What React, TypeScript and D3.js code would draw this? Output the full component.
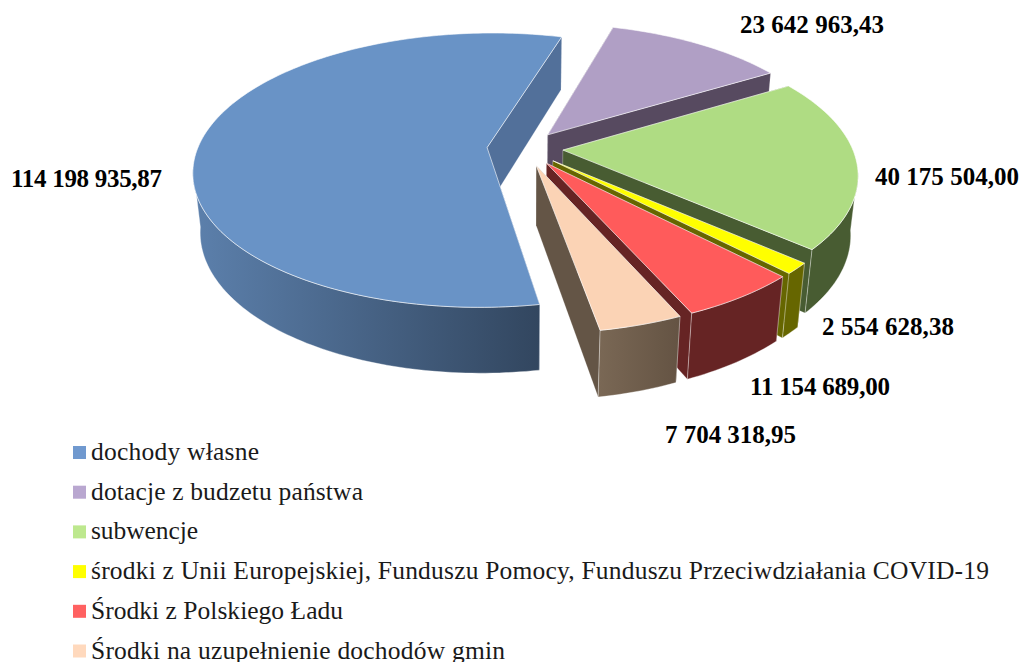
import React from 'react';
import * as d3 from 'd3';

const categories = [
  'dochody własne',
  'dotacje z budzetu państwa',
  'subwencje',
  'środki z Unii Europejskiej, Funduszu Pomocy, Funduszu Przeciwdziałania COVID-19',
  'Środki z Polskiego Ładu',
  'Środki na uzupełnienie dochodów gmin',
];
const values = [114198935.87, 23642963.43, 40175504.0, 2554628.38, 11154689.0, 7704318.95];

const topColors = ['#6993c6', '#b09fc5', '#afdc83', '#ffff00', '#ff5b5b', '#fbd3b5'];
const sideColors = ['#52709a', '#574a60', '#485c32', '#666600', '#662424', '#645546'];
const arcLeft = ['#5c80ac', '#574a60', '#485c32', '#666600', '#662424', '#7a6855'];
const arcRight = ['#32465f', '#574a60', '#485c32', '#666600', '#662424', '#645343'];
const legendColors = ['#7099cf', '#b9a7d0', '#bde88e', '#ffff00', '#ff6161', '#ffd9bd'];

const labelX = [11, 740, 875, 822, 750, 665];
const labelY = [187, 33, 185, 335, 395, 443];
const labelWidth = [151, 144, 144, 132, 140, 131];
const legendWidth = [168, 272, 107, 898, 252, 414];

const W = 1021;
const H = 662;
const R = 289.5;
const cx = 525;
const cy = 148.5;
const tilt = 0.462;
const persp = 0.165;
const depth = 60;
const lowShrink = 0.022;
const explode = 38;
const startDeg = 170;

const fmt = d3.formatLocale({ decimal: ',', thousands: ' ', grouping: [3], currency: ['', ''] }).format(',.2f');

const project = (X: number, V: number, low: boolean): [number, number] => {
  const s = 1 / (1 - (persp * V) / R + (low ? lowShrink : 0));
  return [cx + X * s, cy + (tilt * V + (low ? depth : 0)) * s];
};

const pie = d3
  .pie<number>()
  .sort(null)
  .startAngle((startDeg * Math.PI) / 180)
  .endAngle(((startDeg + 360) * Math.PI) / 180);

const line = d3.line();

const buildSlice = (a0: number, a1: number) => {
  const mid = (a0 + a1) / 2;
  const ox = Math.sin(mid) * explode;
  const oy = -Math.cos(mid) * explode;
  const rim = (a: number, low: boolean) => project(ox + R * Math.sin(a), oy - R * Math.cos(a), low);
  const apex = (low: boolean) => project(ox, oy, low);
  const n = Math.max(4, Math.ceil((a1 - a0) / 0.02));
  const angles = d3.range(n + 1).map((i) => a0 + ((a1 - a0) * i) / n);

  const top = line([apex(false), ...angles.map((a) => rim(a, false))]) + 'Z';
  const radial = (a: number) => line([apex(false), rim(a, false), rim(a, true), apex(true)]) + 'Z';
  // only the side of the rim that faces the viewer
  const front = angles.filter((a) => -Math.cos(a) > persp - 0.02);
  const arcWall =
    front.length > 1
      ? line([...front.map((a) => rim(a, false)), ...front.slice().reverse().map((a) => rim(a, true))]) + 'Z'
      : null;
  return { top, walls: [radial(a0), radial(a1)], arcWall };
};

export default function App() {
  const slices = pie(values).map((d) => buildSlice(d.startAngle, d.endAngle));
  const textFont = '"Liberation Serif", serif';

  return (
    <svg width={W} height={H} style={{ position: 'fixed', left: 0, top: 0, background: '#fff' }}>
      <defs>
        {categories.map((_, i) => (
          <linearGradient key={i} id={`wall${i}`} x1="0" x2="1" y1="0" y2="0">
            <stop offset="0" stopColor={arcLeft[i]} />
            <stop offset="1" stopColor={arcRight[i]} />
          </linearGradient>
        ))}
      </defs>

      {slices.map((s, i) => (
        <g key={i}>
          {s.walls.map((d, j) => (
            <path key={j} d={d} fill={sideColors[i]} stroke="#fff" strokeOpacity={0.25} strokeWidth={0.8} strokeLinejoin="round" />
          ))}
          {s.arcWall && (
            <path d={s.arcWall} fill={`url(#wall${i})`} stroke="#fff" strokeOpacity={0.45} strokeWidth={0.8} strokeLinejoin="round" />
          )}
          <path d={s.top} fill={topColors[i]} stroke="#fff" strokeOpacity={0.6} strokeWidth={1} strokeLinejoin="round" />
        </g>
      ))}

      {values.map((v, i) => (
        <text key={i} x={labelX[i]} y={labelY[i]} fontFamily={textFont} fontWeight="bold" fontSize={25} fill="#000" textLength={labelWidth[i]} lengthAdjust="spacing">
          {fmt(v)}
        </text>
      ))}

      {categories.map((c, i) => {
        const y = 452 + i * 39.7;
        return (
          <g key={c}>
            <rect x={73} y={y - 6} width={13} height={13} fill={legendColors[i]} />
            <text x={91} y={y + 8} fontFamily={textFont} fontSize={25.5} fill="#1a1a1a" textLength={legendWidth[i]} lengthAdjust="spacing">
              {c}
            </text>
          </g>
        );
      })}
    </svg>
  );
}
